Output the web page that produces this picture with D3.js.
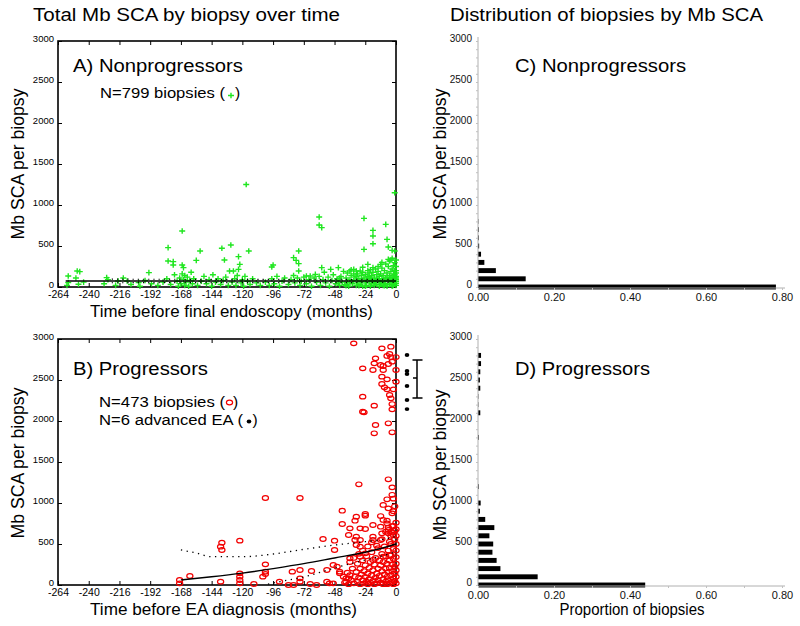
<!DOCTYPE html>
<html><head><meta charset="utf-8">
<script src="https://cdn.jsdelivr.net/npm/d3@7"></script>
<style>body{margin:0;background:#fff} svg{font-family:"Liberation Sans",Arial,sans-serif}</style>
</head><body><svg id="c" width="800" height="626"></svg>
<script>
// ---------- data ----------
const monthTicks = [-264,-240,-216,-192,-168,-144,-120,-96,-72,-48,-24,0];
const scaTicks = [0,500,1000,1500,2000,2500,3000];
const propTicks = [0,0.1,0.2,0.3,0.4,0.5,0.6,0.7,0.8];

const nonprogressorBiopsies = [
[-117,1250],[-1,1150],[-60,854],[-60,756],[-58,724],[-25,837],[-8,764],[-18,691],[-18,622],[-18,528],[-7,581],[-6,488],[-3,447],[-25,459],[-167,683],[-178,480],[-178,317],[-174,309],[-174,268],[-167,268],[-166,236],[-153,439],[-156,325],[-136,472],[-134,329],[-129,512],[-123,370],[-122,276],[-123,215],[-127,195],[-130,195],[-115,439],[-96,268],[-97,244],[-76,439],[-80,358],[-78,325],[-76,285],[-76,195],[-193,175],[-256,134],[-247,187],[-249,195],[-18,236],[-22,276],[-28,195],[-12,276],[-6,337],[-3,350],[-5,317],[-1,439],[-1,297],[-51,215],[-58,236],[-45,236],[-36,195],[-33,215],[-31,195],[-63,154],[-70,134],[-67,134],[-226,114],[-217,73],[-210,73],[-256,53],[-248,33],[-201,53],
[-257,20],[-250,110],[-244,60],[-228,40],[-225,90],[-219,20],[-213,110],[-207,30],[-200,10],[-196,80],[-191,40],
[-186,20],[-182,60],[-179,100],[-176,30],[-173,150],[-171,70],[-170,10],
[-169,110],[-168,40],[-167,160],[-166,90],[-165,20],[-165,140],[-164,60],[-163,120],[-162,10],[-161,80],[-160,180],[-159,40],[-158,100],
[-155,20],[-152,70],[-150,130],[-148,40],[-146,90],[-144,10],[-143,150],[-141,60],[-139,100],[-137,30],[-135,80],[-133,120],[-131,20],
[-128,60],[-126,100],[-125,20],[-124,140],[-121,50],[-120,90],[-119,10],[-118,130],[-116,70],[-114,30],[-112,100],[-109,50],[-106,20],
[-102,60],[-99,20],[-97,100],[-95,40],[-93,130],[-91,10],[-89,70],[-87,110],
[-84,30],[-82,90],[-80,140],[-79,50],[-77,110],[-75,20],[-74,70],[-72,120],[-70,40],[-68,90],[-66,10],[-64,110],[-62,60],
[-60,130],[-59,20],[-57,90],[-56,180],[-55,50],[-53,120],[-52,10],[-50,80],[-49,150],[-47,40],[-46,100],[-44,20],[-43,130],[-42,60],[-41,190],
[-40,30],[-39,110],[-38,170],[-38,60],[-37,10],[-36,90],[-35,140],[-34,40],[-33,80],[-32,120],[-31,20],[-30,160],[-30,60],[-29,100],[-28,30],[-27,140],[-27,70],[-26,180],[-26,10],[-25,110],[-24,50],[-24,150],[-23,90],[-23,20],[-22,130],[-22,200],[-21,60],[-21,170],[-20,10],[-20,100],[-19,140],[-19,40],[-18,80],[-18,180],[-17,20],[-17,120],[-16,60],[-16,220],[-15,150],[-15,30],[-14,90],[-14,190],[-13,10],[-13,130],[-12,50],[-12,160],[-11,100],[-11,230],[-10,20],[-10,140],[-9,70],[-9,200],[-8,110],[-8,40],[-7,170],[-7,10],[-6,90],[-6,250],[-5,140],[-5,30],[-4,60],[-4,190],[-3,120],[-3,10],[-2,80],[-2,260],[-2,160],[-1,40],[-1,110],[-1,200],[0,20],[0,70],[0,130],[0,170],[0,90],[-3,220],[-8,280],[-14,250],[-20,210],[-26,240],[-31,130],[-35,210],[-11,300],[-4,330],[0,330],
[-45,60],[-44,110],[-39,15],[-36,50],[-33,160],[-29,15],[-27,100],[-24,10],[-21,120],[-19,75],[-17,60],[-15,100],[-13,60],[-11,40],[-9,15],[-7,120],[-5,80],[-4,110],[-3,60],[-2,20],[-1,150],[0,45],[0,110],[0,200],[0,250]
];

const progressorBiopsies = [
[-33,2947],[-4,2906],[-11,2886],[-5,2817],[-7,2793],[-4,2780],[0,2780],[-16,2764],[-17,2703],[-12,2683],[-10,2671],[-6,2695],[-3,2724],[-26,2642],[-18,2622],[-10,2622],[0,2622],[-11,2541],[-7,2508],[-11,2451],[-9,2411],[-7,2386],[-5,2317],[-4,2276],[-2,2386],[0,2480],[-26,2297],[-17,2187],[-26,2114],[-25,2106],[-3,2207],[-3,2142],[-16,1951],[-17,1850],[-6,1972],[-3,1862],[-29,1228],[-6,1289],[-3,1191],[-102,1061],[-75,1061],[-7,1045],[-2,1053],
[-10,976],[-6,935],[-3,874],[-42,906],[-31,833],[-32,784],[-24,866],[-24,846],[-12,841],[-10,793],[-7,785],[-42,744],[-36,691],[-28,691],[-24,683],[-18,732],[-12,711],[-7,752],[-6,671],[-3,719],[-37,610],[-31,589],[-18,589],[-11,630],[-6,630],[-2,610],[-57,561],[-48,540],[-32,549],[-28,549],[-18,549],[-12,549],[-5,528],[-136,516],[-137,467],[-136,427],[-122,541],[-48,427],[-31,488],[-28,467],[-24,386],[-36,325],[-28,346],[-18,305],[-10,346],[-5,366],[-49,244],[-46,224],[-44,163],[-37,81],[-54,183],[-44,142],[-102,252],[-102,163],[-102,134],[-104,102],[-122,142],[-122,102],[-122,61],[-122,20],[-161,110],[-169,61],[-169,20],[-137,41],[-111,12],[-91,41],[-84,0],[-80,0],[-75,183],[-75,81],[-75,41],[-81,163],[-66,171],[-67,12],[-62,0],[-54,41],[-52,20],[-49,20],[-41,102],[-39,41],
[-40,30],[-39,80],[-38,150],[-37,10],[-36,120],[-35,60],[-34,200],[-33,20],[-32,100],[-31,160],[-30,40],[-30,260],[-29,90],[-28,10],[-28,200],[-27,130],[-26,60],[-26,300],[-25,20],[-25,170],[-24,100],[-24,240],[-23,40],[-23,350],[-22,140],[-22,10],[-21,210],[-21,70],[-20,280],[-20,30],[-19,120],[-19,400],[-18,180],[-18,50],[-17,10],[-17,250],[-16,90],[-16,330],[-15,140],[-15,20],[-14,200],[-14,60],[-14,450],[-13,300],[-13,110],[-12,30],[-12,240],[-11,170],[-11,380],[-10,70],[-10,10],[-10,280],[-9,130],[-9,470],[-8,200],[-8,40],[-8,350],[-7,100],[-7,260],[-7,10],[-6,160],[-6,420],[-6,60],[-5,300],[-5,20],[-5,210],[-4,120],[-4,500],[-4,360],[-3,40],[-3,250],[-3,170],[-2,80],[-2,440],[-2,10],[-2,320],[-1,140],[-1,220],[-1,560],[-1,50],[0,20],[0,100],[0,180],[0,260],[0,340],[0,420],[0,500],[0,600],[0,680],[0,760],[-1,660],[-2,720],[-3,640],[-4,600],[-6,700],[-8,650],[-11,560],[-15,480],[-19,520],[-22,470],[-26,420],[-29,380],[-33,330],[-36,280],[-2,900],[-1,960],[-3,1100]
];

const advancedEA = [2805,2610,2573,2427,2256,2146];
const advancedEASummary = [2280,2524,2744]; // low, centre, high

const nonprogFit   = [[-258,73],[0,73]];
const nonprogUpper = [[-222,95],[0,92]];
const nonprogLower = [[-222,52],[0,55]];
const progFit   = [[-168,62],[-144,100],[-120,145],[-96,200],[-72,260],[-48,330],[-24,400],[-12,445],[0,500]];
const progUpper = [[-168,427],[-156,390],[-144,345],[-120,345],[-96,378],[-72,435],[-48,487],[-24,528],[-12,550],[0,590]];
const progLower = [[-100,10],[-96,24],[-72,98],[-48,207],[-24,305],[-12,350],[0,405]];

const nonprogBins  = [0,100,200,300,400,500,600,700,800];
const nonprogProps = [0.784,0.1255,0.047,0.0167,0.008,0.003,0.002,0.002,0.001];
const progBins  = [0,100,200,300,400,500,600,700,800,900,1000,1200,1800,2100,2200,2300,2400,2500,2600,2700,2800];
const progProps = [0.44,0.157,0.059,0.049,0.038,0.040,0.030,0.043,0.019,0.005,0.007,0.002,0.002,0.006,0.001,0.001,0.006,0.005,0.006,0.008,0.008];

// ---------- drawing ----------
const svg = d3.select("#c");
const xT = d3.scaleLinear().domain([-264,0]).range([58,396]);
const yA = d3.scaleLinear().domain([0,3000]).range([287,41]);
const yB = d3.scaleLinear().domain([0,3000]).range([585,339]);
const xP = d3.scaleLinear().domain([0,0.8]).range([478,782]);

function txt(x,y,s,size,width,anchor,rot){
  const t = svg.append("text").attr("x",x).attr("y",y).attr("font-size",size).attr("fill","#000")
    .attr("text-anchor",anchor||"start").text(s);
  if(width){ t.attr("textLength",width).attr("lengthAdjust","spacingAndGlyphs"); }
  if(rot){ t.attr("transform",`rotate(-90,${x},${y})`); }
  return t;
}

function timePanel(y){
  const g = svg.append("g");
  const [y0,y1] = y.range();
  const xb = g.append("g").attr("transform",`translate(0,${y0})`)
    .call(d3.axisBottom(xT).tickValues(monthTicks).tickSize(-4).tickPadding(3.5).tickFormat(d=>String(d)));
  xb.selectAll("text").attr("font-size",10.5).attr("font-family","Liberation Sans, Arial").attr("fill","#000");
  g.append("g").attr("transform",`translate(0,${y1})`)
    .call(d3.axisTop(xT).tickValues(monthTicks).tickSize(-4).tickFormat(""));
  const yl = g.append("g").attr("transform",`translate(${xT(-264)},0)`)
    .call(d3.axisLeft(y).tickValues(scaTicks).tickSize(-4).tickPadding(4).tickFormat(d=>String(d)));
  yl.selectAll("text").attr("font-size",9.5).attr("y",-3).attr("dy","0.32em").attr("font-family","Liberation Sans, Arial").attr("fill","#000");
  g.append("g").attr("transform",`translate(${xT(0)},0)`)
    .call(d3.axisRight(y).tickValues(scaTicks).tickSize(-4).tickFormat(""));
  g.selectAll(".domain").remove();
  g.selectAll(".tick line").attr("stroke","#000").attr("stroke-width",1);
  g.append("rect").attr("x",xT(-264)).attr("y",y1).attr("width",xT(0)-xT(-264)).attr("height",y0-y1)
    .attr("fill","none").attr("stroke","#000").attr("stroke-width",1.6);
  return g;
}

function propPanel(y, bins, props){
  const g = svg.append("g");
  const [y0,y1] = y.range();
  const step = y(0)-y(100);
  const th = step*0.6;
  g.selectAll("rect.bar").data(bins.map((b,i)=>[b,props[i]])).enter().append("rect")
    .attr("class","bar").attr("x",xP(0)).attr("y",d=>y(d[0])-th/2)
    .attr("width",d=>xP(d[1])-xP(0)).attr("height",th).attr("fill","#000");
  const ya = g.append("g").attr("transform",`translate(${xP(0)},0)`)
    .call(d3.axisLeft(y).tickValues(d3.range(0,3001,100)).tickSize(2).tickPadding(4)
      .tickFormat(d=> d%500===0 ? String(d) : ""));
  ya.selectAll("text").attr("font-size",10).attr("y",-2.5).attr("fill","#111").attr("font-family","Liberation Sans, Arial");
  const xa = g.append("g").attr("transform",`translate(0,${y0+1})`)
    .call(d3.axisBottom(xP).tickValues(propTicks).tickSize(2).tickPadding(3.5)
      .tickFormat(d=> Math.round(d*10)%2===0 ? d3.format(".2f")(d) : ""));
  xa.selectAll("text").attr("font-size",11).attr("fill","#111").attr("font-family","Liberation Sans, Arial");
  g.selectAll(".domain").attr("stroke","#b0b0b0").attr("stroke-width",1);
  g.selectAll(".tick line").attr("stroke","#c0c0c0");
  ya.select(".domain").attr("d",`M0,${y0}V${y1-4}`);
  xa.select(".domain").attr("d",`M${xP(0)},0H${xP(0.8)+3}`);
}

function plus(g,x,y){
  g.append("path").attr("d",`M${x-3},${y}H${x+3}M${x},${y-2.8}V${y+2.8}`)
    .attr("stroke","#1fe61f").attr("stroke-width",1.4).attr("fill","none");
}
function ring(g,x,y){
  g.append("ellipse").attr("cx",x).attr("cy",y).attr("rx",3.1).attr("ry",2.3)
    .attr("fill","none").attr("stroke","#f20000").attr("stroke-width",1.2);
}

// Panel A
timePanel(yA);
const gA = svg.append("g");
nonprogressorBiopsies.forEach(d=>plus(gA,xT(d[0]),yA(d[1])));
const lineA = d3.line().x(d=>xT(d[0])).y(d=>yA(d[1]));
gA.append("path").attr("d",lineA(nonprogFit)).attr("stroke","#000").attr("stroke-width",1.4).attr("fill","none");
[nonprogUpper,nonprogLower].forEach(l=>gA.append("path").attr("d",lineA(l)).attr("stroke","#000")
  .attr("stroke-width",1.2).attr("stroke-dasharray","1.2,4").attr("fill","none"));

// Panel B
timePanel(yB);
const gB = svg.append("g");
progressorBiopsies.forEach(d=>ring(gB,xT(d[0]),yB(d[1])));
const lineB = d3.line().curve(d3.curveMonotoneX).x(d=>xT(d[0])).y(d=>yB(d[1]));
gB.append("path").attr("d",lineB(progFit)).attr("stroke","#000").attr("stroke-width",1.4).attr("fill","none");
[progUpper,progLower].forEach(l=>gB.append("path").attr("d",lineB(l)).attr("stroke","#000")
  .attr("stroke-width",1.3).attr("stroke-dasharray","1.3,4.5").attr("fill","none"));
advancedEA.forEach(v=>gB.append("ellipse").attr("cx",407).attr("cy",yB(v)).attr("rx",2.3).attr("ry",1.9).attr("fill","#000"));
const [eLo,eMid,eHi] = advancedEASummary;
gB.append("path").attr("d",`M417,${yB(eLo)}V${yB(eHi)}M412.5,${yB(eHi)}H422.5M412.5,${yB(eLo)}H422.5M413,${yB(eMid)}H417`)
  .attr("stroke","#000").attr("stroke-width",1.5).attr("fill","none");

// Panels C, D
propPanel(yA, nonprogBins, nonprogProps);
propPanel(yB, progBins, progProps);

// Texts
txt(33,21,"Total Mb SCA by biopsy over time",17.5,307);
txt(450,21,"Distribution of biopsies by Mb SCA",17.5,313);
txt(73,72,"A) Nonprogressors",17.5,170);
txt(515,72,"C) Nonprogressors",17.5,171);
txt(73,375,"B) Progressors",17.5,135);
txt(515,375,"D) Progressors",17.5,135);

txt(100,98,"N=799 biopsies (",15.5,125);
plus(svg,231,95.5);
txt(235,98,")",15.5);
txt(99,407,"N=473 biopsies (",15.5,126);
ring(svg,229.5,402.5);
txt(233,407,")",15.5);
txt(99,425,"N=6 advanced EA (",15.5,144);
svg.append("ellipse").attr("cx",249).attr("cy",421.5).attr("rx",2.3).attr("ry",1.9).attr("fill","#000");
txt(252.5,425,")",15.5);

txt(231.5,317,"Time before final endoscopy (months)",16.5,283,"middle");
txt(223.5,615,"Time before EA diagnosis (months)",16.5,267,"middle");
txt(632,615,"Proportion of biopsies",16.5,145,"middle");

txt(24,164,"Mb SCA per biopsy",17.5,151,"middle",true);
txt(24,463,"Mb SCA per biopsy",17.5,151,"middle",true);
txt(446,164,"Mb SCA per biopsy",17.5,151,"middle",true);
txt(446,465,"Mb SCA per biopsy",17.5,151,"middle",true);
</script></body></html>
